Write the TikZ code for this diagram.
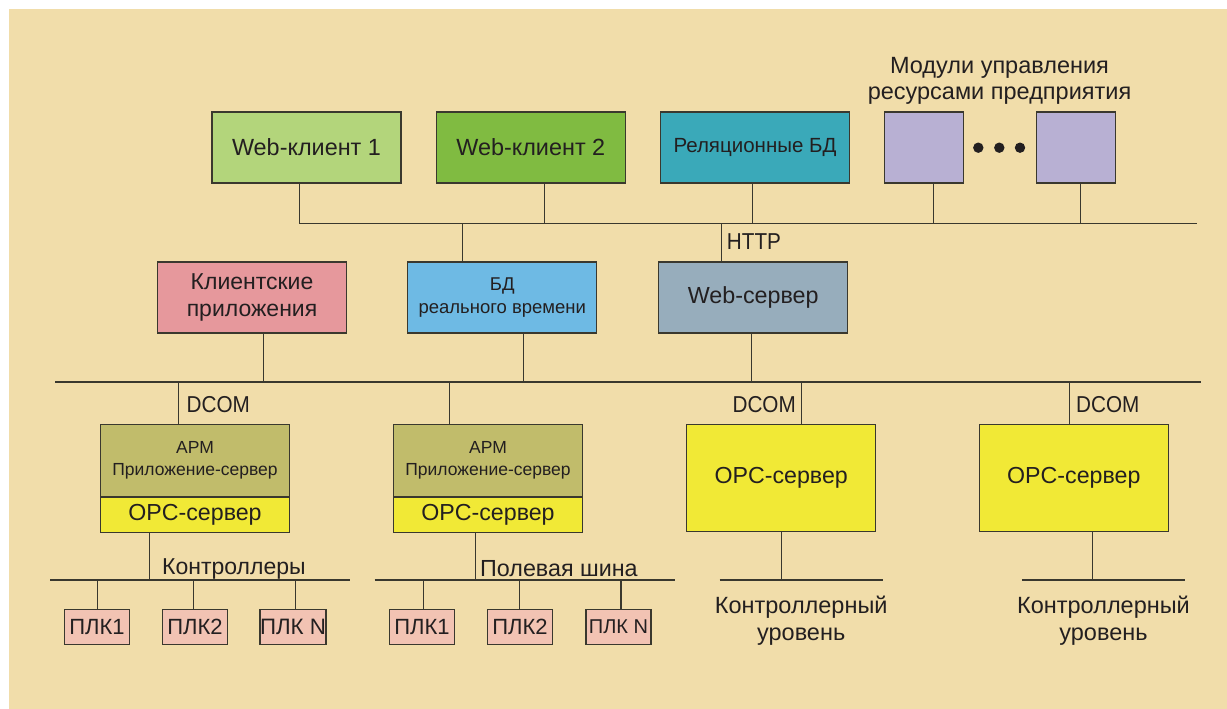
\documentclass[tikz,border=0pt]{standalone}
\usepackage{fontspec}
\setmainfont{Liberation Sans}
\usetikzlibrary{positioning}

\definecolor{bgbeige}{HTML}{F1DDAA}
\definecolor{linec}{HTML}{3A382E}
\definecolor{textc}{HTML}{231F20}
\definecolor{webone}{HTML}{B3D57B}
\definecolor{webtwo}{HTML}{80BB41}
\definecolor{reldb}{HTML}{3AA9B9}
\definecolor{erpmod}{HTML}{B8B0D3}
\definecolor{clientc}{HTML}{E6989C}
\definecolor{rtdbc}{HTML}{6EBAE4}
\definecolor{websrvc}{HTML}{97ADBC}
\definecolor{armc}{HTML}{C1BC6B}
\definecolor{opcc}{HTML}{F1E936}
\definecolor{plcc}{HTML}{F2C3B3}

\tikzset{
  box/.style={draw=linec, line width=1.1pt, minimum width=189, minimum height=71,
    inner sep=0pt, align=center, text=textc},
  plcbox/.style={box, fill=plcc, minimum width=65, minimum height=35},
  bus/.style={draw=linec, line width=1.1pt},
  lbl/.style={inner sep=0pt, text=textc, align=center},
  txt/.style 2 args={font={\fontsize{#1}{#2}\selectfont}},
  narrow/.style={font={\fontsize{23}{27}\selectfont\addfontfeatures{FakeStretch=0.9}}},
}

\begin{document}
\begin{tikzpicture}[x=1pt, y=-1pt]
\useasboundingbox (0,0) rectangle (1227,709);
\fill[bgbeige] (9,9) rectangle (1227,709);

% upper level
\node[box, fill=webone, txt={23.4}{28}] (wc1) at (306.5,147.5) {Web-клиент 1};
\node[box, fill=webtwo, txt={23.4}{28}] (wc2) at (530.8,147.5) {Web-клиент 2};
\node[box, fill=reldb, txt={20.5}{25}] (rdb) at (755,147.5) {Реляционные БД};
\node[box, fill=erpmod, minimum width=79] (mod1) at (923.8,147.5) {};
\node[box, fill=erpmod, minimum width=79] (mod2) at (1075.7,147.5) {};
\foreach \x in {978.3,999.3,1020} \fill[textc] (\x,147.7) circle (5.2);
\node[lbl, txt={23.5}{26}] (erp) at (999.5,81) {Модули управления\\ресурсами предприятия};

\coordinate (b1w) at (299.3,223.3);
\coordinate (b1e) at (1196.7,223.3);
\draw[bus] (wc1.south -| b1w) -- (b1w) -- (b1e);
\foreach \n/\dx in {wc2/13.5, rdb/-2.3, mod1/9.5, mod2/4.8}
  \draw[bus] (\n.south) ++(\dx,0) coordinate (d) -- (d |- b1w);

% middle level
\node[box, fill=clientc, txt={23}{26.7}] (clapp) at (252,297.5) {Клиентские\\приложения};
\node[box, fill=rtdbc, txt={18.5}{22.4}] (rtdb) at (502.3,297.5) {БД\\реального времени};
\node[box, fill=websrvc, txt={23.3}{27}] (websrv) at (753.2,297.5) {Web-сервер};

\foreach \n/\dx in {rtdb/-40.1, websrv/-31.5}
  \draw[bus] (\n.north) ++(\dx,0) coordinate (d) -- (d |- b1w);
\node[lbl, narrow, anchor=west] (http) at (726.7,242) {HTTP};

\coordinate (b2w) at (55,382);
\coordinate (b2e) at (1201,382);
\draw[bus] (b2w) -- (b2e);
\foreach \n/\dx in {clapp/11.7, rtdb/20.8, websrv/-2.1}
  \draw[bus] (\n.south) ++(\dx,0) coordinate (d) -- (d |- b2w);

% servers
\node[box, fill=armc, minimum height=71.7, txt={17.5}{21.6}] (arm1) at (195,460.2)
  {АРМ\\Приложение-сервер};
\node[box, fill=opcc, minimum height=35.7, txt={23.2}{26}, below=0pt of arm1] (opc1) {OPC-сервер};
\node[box, fill=armc, minimum height=71.7, txt={17.5}{21.6}] (arm2) at (488,460.2)
  {АРМ\\Приложение-сервер};
\node[box, fill=opcc, minimum height=35.7, txt={23.2}{26}, below=0pt of arm2] (opc2) {OPC-сервер};
\node[box, fill=opcc, minimum height=107.4, txt={23.2}{27}] (opc3) at (781.2,478) {OPC-сервер};
\node[box, fill=opcc, minimum height=107.4, txt={23.2}{27}] (opc4) at (1073.8,478) {OPC-сервер};

\foreach \n/\dx in {arm1/-16.7, arm2/-38.4, opc3/20.7, opc4/-4}
  \draw[bus] (\n.north) ++(\dx,0) coordinate (d) -- (d |- b2w);
\node[lbl, narrow, anchor=west] (dcom1) at (186.5,404.3) {DCOM};
\node[lbl, narrow, anchor=east] (dcom3) at (796,404.3) {DCOM};
\node[lbl, narrow, anchor=west] (dcom4) at (1076,404.3) {DCOM};

% field level
\coordinate (b3w) at (50.2,580);  \coordinate (b3e) at (350,580);
\coordinate (b4w) at (374.5,580); \coordinate (b4e) at (675.4,580);
\coordinate (b5w) at (719.5,580); \coordinate (b5e) at (882.5,580);
\coordinate (b6w) at (1021.9,580); \coordinate (b6e) at (1185.2,580);
\foreach \a/\b in {b3w/b3e, b4w/b4e, b5w/b5e, b6w/b6e} \draw[bus] (\a) -- (\b);
\foreach \n/\dx in {opc1/-45.1, opc2/-12.7, opc3/-0.1, opc4/18.8}
  \draw[bus] (\n.south) ++(\dx,0) coordinate (d) -- (d |- b3w);

\node[lbl, txt={23}{26}, anchor=base west] (ctrl) at (162,574) {Контроллеры};
\node[lbl, txt={23.3}{26}, anchor=base west] (fbus) at (480,576.7) {Полевая шина};

\node[plcbox, txt={22}{24}] (p1) at (97,626.7) {ПЛК1};
\node[plcbox, txt={22}{24}] (p2) at (195,626.7) {ПЛК2};
\node[plcbox, txt={22.3}{24}] (p3) at (293,626.7) {ПЛК N};
\node[plcbox, txt={22}{24}] (p4) at (422,626.7) {ПЛК1};
\node[plcbox, txt={22}{24}] (p5) at (520,626.7) {ПЛК2};
\node[plcbox, txt={20}{22}] (p6) at (618.5,626.7) {ПЛК N};
\foreach \n/\dx in {p1/0.7, p2/-1.2, p3/2.4, p4/1.1, p5/-0.8, p6/2.5}
  \draw[bus] (\n.north) ++(\dx,0) coordinate (d) -- (d |- b3w);

\node[lbl, txt={23.5}{27}, anchor=north] (lvl3) at (801.2,596) {Контроллерный\\уровень};
\node[lbl, txt={23.5}{27}, anchor=north] (lvl4) at (1103.5,596) {Контроллерный\\уровень};

\end{tikzpicture}
\end{document}
